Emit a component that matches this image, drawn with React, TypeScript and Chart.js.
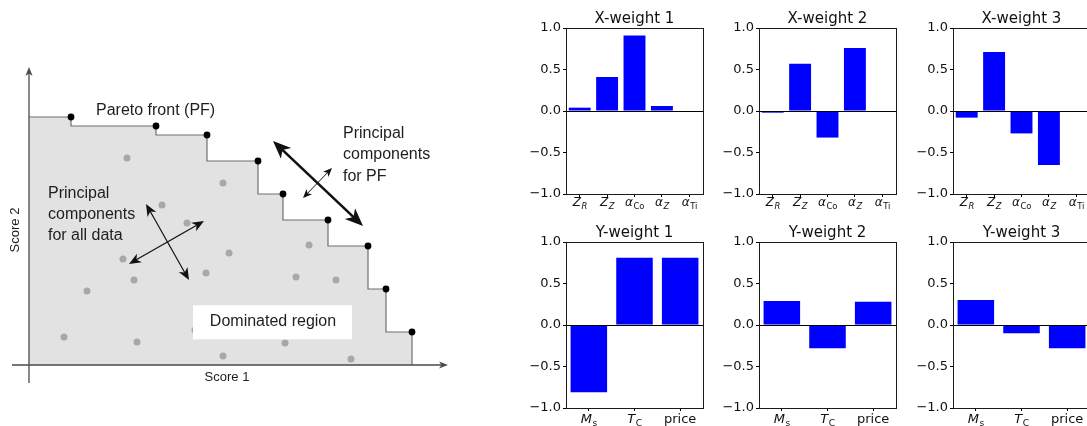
import { useEffect, useRef } from "react";
import { Chart, registerables } from "chart.js";

Chart.register(...registerables);

// ---- Schematic: Pareto front in score space ----
// Pareto-optimal points (Score 1, Score 2)
const paretoScore1 = [4.2, 12.7, 17.8, 22.9, 25.4, 29.9, 33.9, 35.7, 38.3];
const paretoScore2 = [24.8, 23.9, 23.0, 20.4, 17.1, 14.5, 11.9, 7.6, 3.3];

// Dominated points
const dominatedScore1 = [9.8, 19.4, 13.3, 15.8, 9.4, 20.0, 28.0, 10.5, 17.7, 26.7, 30.7, 5.8, 3.5, 10.8, 19.4, 25.6, 32.2, 16.6];
const dominatedScore2 = [20.7, 18.2, 16.0, 14.2, 10.6, 11.2, 12.0, 8.5, 9.2, 8.8, 8.5, 7.4, 2.8, 2.3, 0.9, 2.2, 0.6, 3.5];

// Axis extents (Score 1, Score 2)
const score1Axis = [-1.7, 41.9];
const score2Axis = [-1.8, 29.8];

// Principal component directions [x1, y1, x2, y2]
const pfComponentMajor = [24.4, 22.4, 33.4, 13.9];
const pfComponentMinor = [30.3, 19.7, 27.4, 16.7];
const allComponentA = [11.7, 16.1, 16.0, 8.5];
const allComponentB = [17.5, 14.4, 10.0, 10.1];

// ---- PLS weights ----
const xWeightLabels = ["Z_R", "Z_Z", "α_{Co}", "α_Z", "α_{Ti}"];
const yWeightLabels = ["M_{s}", "T_{C}", "price"];
const xWeight1 = [0.04, 0.41, 0.91, 0.06, 0.0];
const xWeight2 = [-0.02, 0.57, -0.32, 0.76, 0.0];
const xWeight3 = [-0.08, 0.71, -0.27, -0.65, 0.0];
const yWeight1 = [-0.81, 0.81, 0.81];
const yWeight2 = [0.29, -0.28, 0.28];
const yWeight3 = [0.3, -0.1, -0.28];
const weightTicks = [-1, -0.5, 0, 0.5, 1];

const TEXT_FONT = '"Liberation Sans", Arial, sans-serif';
const MPL_FONT = '"DejaVu Sans", sans-serif';

const panelLefts = [566, 759, 953];
const panelTops = [28, 242];
const PANEL_W = 137;
const PANEL_H = 166;
const PAD_L = 48;
const PAD_T = 28;
const PAD_R = 4;
const PAD_B = 22;

const panels = [
  { title: "X-weight 1", labels: xWeightLabels, values: xWeight1, col: 0, row: 0 },
  { title: "X-weight 2", labels: xWeightLabels, values: xWeight2, col: 1, row: 0 },
  { title: "X-weight 3", labels: xWeightLabels, values: xWeight3, col: 2, row: 0 },
  { title: "Y-weight 1", labels: yWeightLabels, values: yWeight1, col: 0, row: 1 },
  { title: "Y-weight 2", labels: yWeightLabels, values: yWeight2, col: 1, row: 1 },
  { title: "Y-weight 3", labels: yWeightLabels, values: yWeight3, col: 2, row: 1 },
];

function arrowHead(ctx: CanvasRenderingContext2D, x: number, y: number, angle: number, len: number, half: number) {
  ctx.save();
  ctx.translate(x, y);
  ctx.rotate(angle);
  ctx.beginPath();
  ctx.moveTo(0, 0);
  ctx.lineTo(-len, -half);
  ctx.lineTo(-len * 0.72, 0);
  ctx.lineTo(-len, half);
  ctx.closePath();
  ctx.fill();
  ctx.restore();
}

function doubleArrow(
  ctx: CanvasRenderingContext2D,
  x1: number, y1: number, x2: number, y2: number,
  width: number, len: number, half: number
) {
  const a = Math.atan2(y2 - y1, x2 - x1);
  const inset = len * 0.7;
  ctx.lineWidth = width;
  ctx.beginPath();
  ctx.moveTo(x1 + Math.cos(a) * inset, y1 + Math.sin(a) * inset);
  ctx.lineTo(x2 - Math.cos(a) * inset, y2 - Math.sin(a) * inset);
  ctx.stroke();
  arrowHead(ctx, x2, y2, a, len, half);
  arrowHead(ctx, x1, y1, a + Math.PI, len, half);
}

const diagramDecor = {
  id: "diagramDecor",
  afterDatasetsDraw(chart: any) {
    const { ctx } = chart;
    const xs = chart.scales.x;
    const ys = chart.scales.y;
    const px = (v: number) => xs.getPixelForValue(v);
    const py = (v: number) => ys.getPixelForValue(v);
    ctx.save();

    // label box over the dominated region
    ctx.fillStyle = "#ffffff";
    ctx.fillRect(px(16.4), py(5.97), px(32.3) - px(16.4), py(2.57) - py(5.97));

    // coordinate axes
    ctx.strokeStyle = "#4a4a4a";
    ctx.fillStyle = "#4a4a4a";
    ctx.lineWidth = 1.3;
    ctx.beginPath();
    ctx.moveTo(px(0), py(score2Axis[0]));
    ctx.lineTo(px(0), py(score2Axis[1]) + 5);
    ctx.moveTo(px(score1Axis[0]), py(0));
    ctx.lineTo(px(score1Axis[1]) - 5, py(0));
    ctx.stroke();
    arrowHead(ctx, px(0), py(score2Axis[1]), -Math.PI / 2, 9, 3.6);
    arrowHead(ctx, px(score1Axis[1]), py(0), 0, 9, 3.6);

    // principal component arrows
    ctx.strokeStyle = "#111";
    ctx.fillStyle = "#111";
    const seg = (c: number[], w: number, l: number, h: number) =>
      doubleArrow(ctx, px(c[0]), py(c[1]), px(c[2]), py(c[3]), w, l, h);
    seg(pfComponentMajor, 2.6, 18, 7.5);
    seg(pfComponentMinor, 1.0, 9, 3.8);
    seg(allComponentA, 1.2, 12, 5);
    seg(allComponentB, 1.2, 12, 5);

    // text
    ctx.fillStyle = "#1e1e1e";
    ctx.font = `16px ${TEXT_FONT}`;
    ctx.textBaseline = "middle";
    ctx.textAlign = "left";
    ctx.fillText("Pareto front (PF)", px(6.7), py(25.4));
    ["Principal", "components", "for PF"].forEach((t, i) => ctx.fillText(t, px(31.4), py(23.17) + i * 21.7));
    ["Principal", "components", "for all data"].forEach((t, i) => ctx.fillText(t, px(1.9), py(17.17) + i * 20.9));
    ctx.textAlign = "center";
    ctx.fillText("Dominated region", px(24.4), py(4.3));
    ctx.font = `13px ${TEXT_FONT}`;
    ctx.fillText("Score 1", px(19.8), py(-1.27));
    ctx.save();
    ctx.translate(px(-1.4), py(13.5));
    ctx.rotate(-Math.PI / 2);
    ctx.fillText("Score 2", 0, 0);
    ctx.restore();

    ctx.restore();
  },
};

function drawTickLabel(ctx: CanvasRenderingContext2D, label: string, cx: number, baseline: number, size: number) {
  ctx.textBaseline = "alphabetic";
  const m = /^(.*?)_(?:\{(.+)\}|(.))$/.exec(label);
  if (!m) {
    ctx.font = `${size}px ${MPL_FONT}`;
    ctx.textAlign = "center";
    ctx.fillText(label, cx, baseline);
    return;
  }
  const base = m[1];
  const sub = m[2] !== undefined ? m[2] : m[3];
  const subItalic = m[2] === undefined;
  const subSize = size * 0.7;
  const baseFont = `italic ${size}px ${MPL_FONT}`;
  const subFont = `${subItalic ? "italic " : ""}${subSize}px ${MPL_FONT}`;
  ctx.font = baseFont;
  const bw = ctx.measureText(base).width;
  ctx.font = subFont;
  const sw = ctx.measureText(sub).width;
  const x0 = cx - (bw + sw) / 2;
  ctx.textAlign = "left";
  ctx.font = baseFont;
  ctx.fillText(base, x0, baseline);
  ctx.font = subFont;
  ctx.fillText(sub, x0 + bw + 0.5, baseline + size * 0.24);
}

const panelDecor = {
  id: "panelDecor",
  afterDatasetsDraw(chart: any, _args: any, opts: any) {
    const { ctx, chartArea: a } = chart;
    const xs = chart.scales.x;
    const ys = chart.scales.y;
    ctx.save();
    // y = 0 reference line
    const y0 = Math.round(ys.getPixelForValue(0)) + 0.5;
    ctx.strokeStyle = "#000";
    ctx.lineWidth = 1.2;
    ctx.beginPath();
    ctx.moveTo(a.left, y0);
    ctx.lineTo(a.right, y0);
    ctx.stroke();
    // frame
    ctx.lineWidth = 1;
    ctx.strokeStyle = "#1a1a1a";
    ctx.strokeRect(Math.round(a.left) + 0.5, Math.round(a.top) + 0.5, Math.round(a.right - a.left), Math.round(a.bottom - a.top));
    // title
    ctx.fillStyle = "#111";
    ctx.font = `15px ${MPL_FONT}`;
    ctx.textAlign = "center";
    ctx.textBaseline = "middle";
    ctx.fillText(opts.title, (a.left + a.right) / 2, a.top - 9);
    // category labels
    chart.data.labels.forEach((lab: string, i: number) =>
      drawTickLabel(ctx, lab, xs.getPixelForTick(i), a.bottom + opts.labelOffset, opts.labelSize)
    );
    ctx.restore();
  },
};

export default function App() {
  const diagramRef = useRef<HTMLCanvasElement>(null);
  const panelRefs = useRef<(HTMLCanvasElement | null)[]>([]);

  useEffect(() => {
    const charts: Chart[] = [];

    const frontData = [
      { x: 0, y: paretoScore2[0] },
      ...paretoScore1.map((x, i) => ({ x, y: paretoScore2[i] })),
      { x: paretoScore1[paretoScore1.length - 1], y: 0 },
    ];
    const frontRadii = frontData.map((_, i) => (i === 0 || i === frontData.length - 1 ? 0 : 3.4));

    if (diagramRef.current) {
      charts.push(
        new Chart(diagramRef.current, {
          type: "scatter",
          data: {
            datasets: [
              {
                type: "line",
                data: frontData,
                stepped: "after",
                fill: "origin",
                backgroundColor: "#e2e2e2",
                borderColor: "#6f6f6f",
                borderWidth: 1.2,
                pointRadius: frontRadii,
                pointBackgroundColor: "#000",
                pointBorderWidth: 0,
                order: 1,
              } as any,
              {
                type: "scatter",
                data: dominatedScore1.map((x, i) => ({ x, y: dominatedScore2[i] })),
                pointRadius: 3.5,
                pointBackgroundColor: "#a8a8a8",
                pointBorderWidth: 0,
                order: 0,
              } as any,
            ],
          },
          options: {
            responsive: false,
            animation: false,
            events: [],
            layout: { padding: 0, autoPadding: false },
            plugins: { legend: { display: false }, tooltip: { enabled: false } },
            scales: {
              x: { type: "linear", display: false, min: -2.9, max: 43.1 },
              y: { type: "linear", display: false, min: -3.5, max: 36.5 },
            },
          } as any,
          plugins: [diagramDecor],
        })
      );
    }

    panels.forEach((p, idx) => {
      const canvas = panelRefs.current[idx];
      if (!canvas) return;
      charts.push(
        new Chart(canvas, {
          type: "bar",
          data: {
            labels: p.labels,
            datasets: [
              {
                data: p.values,
                backgroundColor: "#0000ff",
                borderWidth: 0,
                barPercentage: 0.8,
                categoryPercentage: 1.0,
              },
            ],
          },
          options: {
            responsive: false,
            animation: false,
            events: [],
            layout: { padding: { left: 0, top: PAD_T, right: PAD_R, bottom: 0 }, autoPadding: false },
            plugins: {
              legend: { display: false },
              tooltip: { enabled: false },
              title: { display: false },
              panelDecor: {
                title: p.title,
                labelOffset: p.row === 0 ? 12 : 14.5,
                labelSize: p.row === 0 ? 12 : 13,
              },
            } as any,
            scales: {
              x: {
                type: "category",
                offset: true,
                border: { display: false },
                grid: { drawOnChartArea: false, offset: false, tickLength: 3, color: "#000", lineWidth: 1 },
                ticks: { display: false },
                afterFit: (s: any) => {
                  s.height = PAD_B;
                },
              },
              y: {
                min: -1,
                max: 1,
                border: { display: false },
                grid: { drawOnChartArea: false, tickLength: 3, color: "#000", lineWidth: 1 },
                afterBuildTicks: (s: any) => {
                  s.ticks = weightTicks.map((v) => ({ value: v }));
                },
                ticks: {
                  color: "#111",
                  padding: 2,
                  font: { family: MPL_FONT, size: 13 },
                  callback: (v: any) => {
                    const n = Number(v);
                    return (n < 0 ? "\u2212" : "") + Math.abs(n).toFixed(1);
                  },
                },
                afterFit: (s: any) => {
                  s.width = PAD_L;
                },
              },
            },
          } as any,
          plugins: [panelDecor],
        })
      );
    });

    return () => charts.forEach((c) => c.destroy());
  }, []);

  return (
    <div
      style={{
        position: "absolute",
        left: 0,
        top: 0,
        width: 1087,
        height: 426,
        overflow: "hidden",
        background: "#ffffff",
      }}
    >
      <canvas ref={diagramRef} width={460} height={400} style={{ position: "absolute", left: 0, top: 0 }} />
      {panels.map((p, i) => (
        <canvas
          key={p.title}
          ref={(el) => {
            panelRefs.current[i] = el;
          }}
          width={PAD_L + PANEL_W + PAD_R}
          height={PAD_T + PANEL_H + PAD_B}
          style={{
            position: "absolute",
            left: panelLefts[p.col] - PAD_L,
            top: panelTops[p.row] - PAD_T,
          }}
        />
      ))}
    </div>
  );
}
